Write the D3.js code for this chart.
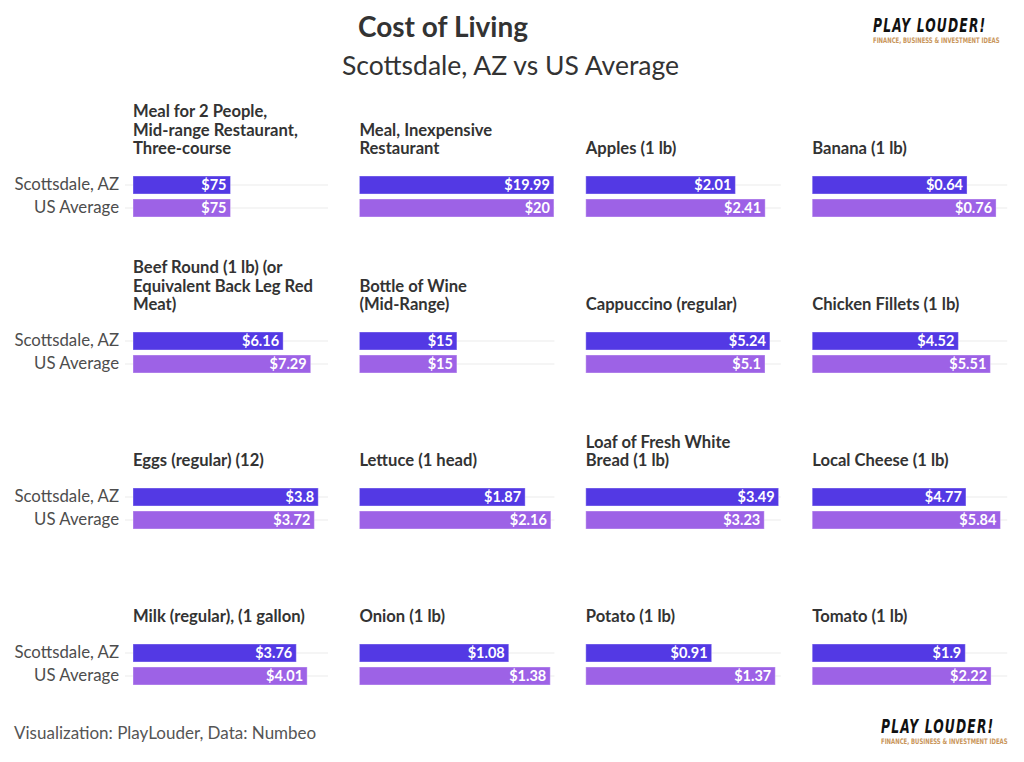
<!DOCTYPE html>
<html>
<head>
<meta charset="utf-8">
<script src="https://cdn.jsdelivr.net/npm/d3@7"></script>
<style>
  html, body { margin: 0; padding: 0; background: #fff; }
  svg { display: block; }
</style>
</head>
<body>
<svg id="chart" width="1024" height="762"></svg>
<script>
// ---------------- DATA ----------------
const categories = [
  "Meal for 2 People,\nMid-range Restaurant,\nThree-course",
  "Meal, Inexpensive\nRestaurant",
  "Apples (1 lb)",
  "Banana (1 lb)",
  "Beef Round (1 lb) (or\nEquivalent Back Leg Red\nMeat)",
  "Bottle of Wine\n(Mid-Range)",
  "Cappuccino (regular)",
  "Chicken Fillets (1 lb)",
  "Eggs (regular) (12)",
  "Lettuce (1 head)",
  "Loaf of Fresh White\nBread (1 lb)",
  "Local Cheese (1 lb)",
  "Milk (regular), (1 gallon)",
  "Onion (1 lb)",
  "Potato (1 lb)",
  "Tomato (1 lb)"
];
const seriesNames = ["Scottsdale, AZ", "US Average"];
const scottsdale = [75, 19.99, 2.01, 0.64, 6.16, 15, 5.24, 4.52, 3.8, 1.87, 3.49, 4.77, 3.76, 1.08, 0.91, 1.9];
const usAverage  = [75, 20, 2.41, 0.76, 7.29, 15, 5.1, 5.51, 3.72, 2.16, 3.23, 5.84, 4.01, 1.38, 1.37, 2.22];
// upper end of each panel's (free) price axis
const axisMax    = [150, 20.05, 2.62, 0.806, 8, 30, 5.55, 6.03, 4.0, 2.2, 3.53, 6.05, 4.49, 1.41, 1.41, 2.42];

const titleText = "Cost of Living";
const subtitleText = "Scottsdale, AZ vs US Average";
const captionText = "Visualization: PlayLouder, Data: Numbeo";
const logoText = "PLAY LOUDER!";
const logoTag = "FINANCE, BUSINESS & INVESTMENT IDEAS";

// ---------------- LAYOUT ----------------
const svg = d3.select("#chart");
const W = 1024, H = 762;
const nCols = 4;
const colLeft0 = 133, colPitch = 226.4, panelW = 195;
const rowTop0 = 176, rowPitch = 156, groupH = 41;
const colors = { "Scottsdale, AZ": "#5339e4", "US Average": "#9d62e6" };
const FONT = "Lato, 'Open Sans', sans-serif";
const LOGOFONT = "'DejaVu Sans Condensed', 'Liberation Sans Narrow', sans-serif";

svg.append("rect").attr("width", W).attr("height", H).attr("fill", "#fff");

// titles
svg.append("text").attr("x", 358).attr("y", 37)
  .attr("font-family", FONT).attr("font-weight", 700).attr("font-size", 28)
  .attr("fill", "#333").text(titleText);
svg.append("text").attr("x", 342).attr("y", 75)
  .attr("font-family", FONT).attr("font-weight", 400).attr("font-size", 26.5)
  .attr("fill", "#333").text(subtitleText);

// caption
svg.append("text").attr("x", 14).attr("y", 739)
  .attr("font-family", FONT).attr("font-size", 17).attr("fill", "#555")
  .text(captionText);

// logos
function logo(x, y) {
  const g = svg.append("g").attr("transform", `translate(${x},${y})`);
  g.append("text").attr("x", 0).attr("y", 0)
    .attr("transform", "scale(0.72,1)")
    .attr("font-family", LOGOFONT)
    .attr("font-weight", 700).attr("font-style", "italic").attr("font-size", 19)
    .attr("letter-spacing", 1.6)
    .attr("fill", "#111")
    .text(logoText);
  g.append("text").attr("x", 0).attr("y", 11)
    .attr("transform", "scale(0.78,1)")
    .attr("font-family", LOGOFONT)
    .attr("font-weight", 700).attr("font-size", 7.6)
    .attr("fill", "#c9965b")
    .text(logoTag);
}
logo(873, 32);
logo(881, 733);

// series band scale (shared inside each panel)
const yBand = d3.scaleBand().domain(seriesNames).range([0, groupH]).paddingInner(0.217).paddingOuter(0);

categories.forEach((cat, i) => {
  const col = i % nCols, row = Math.floor(i / nCols);
  const x0 = colLeft0 + col * colPitch;
  const y0 = rowTop0 + row * rowPitch;
  const g = svg.append("g").attr("transform", `translate(${x0},${y0})`);

  const x = d3.scaleLinear().domain([0, axisMax[i]]).range([0, panelW]);

  const vals = [
    { s: seriesNames[0], v: scottsdale[i] },
    { s: seriesNames[1], v: usAverage[i] }
  ];

  // grid tracks
  g.selectAll("line.track").data(vals).join("line")
    .attr("class", "track")
    .attr("x1", col === 0 ? -8 : 0).attr("x2", panelW)
    .attr("y1", d => yBand(d.s) + yBand.bandwidth() / 2)
    .attr("y2", d => yBand(d.s) + yBand.bandwidth() / 2)
    .attr("stroke", "#ebebeb").attr("stroke-width", 1.2);

  // y-axis labels on the first column
  if (col === 0) {
    const axis = d3.axisLeft(yBand).tickSize(0).tickPadding(14);
    const ag = g.append("g").call(axis);
    ag.select(".domain").remove();
    ag.selectAll("text").attr("font-family", FONT).attr("font-size", 16.8).attr("fill", "#4d4d4d");
  }

  // bars
  g.selectAll("rect.bar").data(vals).join("rect")
    .attr("class", "bar")
    .attr("x", x(0))
    .attr("y", d => yBand(d.s))
    .attr("width", d => x(d.v) - x(0))
    .attr("height", yBand.bandwidth())
    .attr("fill", d => colors[d.s])
    .attr("stroke", "rgba(255,255,255,0.35)").attr("stroke-width", 1);

  // value labels
  g.selectAll("text.val").data(vals).join("text")
    .attr("class", "val")
    .attr("x", d => x(d.v) - 4)
    .attr("y", d => yBand(d.s) + yBand.bandwidth() / 2)
    .attr("dy", "0.36em")
    .attr("text-anchor", "end")
    .attr("font-family", FONT).attr("font-weight", 700).attr("font-size", 14.5)
    .attr("fill", "#fff")
    .text(d => "$" + d.v);

  // facet title (bottom-aligned, wraps upward)
  const lines = cat.split("\n");
  const lineH = 18.5;
  const t = g.append("text")
    .attr("font-family", FONT).attr("font-weight", 700).attr("font-size", 16.6)
    .attr("fill", "#333");
  lines.forEach((ln, k) => {
    t.append("tspan").attr("x", 0)
      .attr("y", -22 - (lines.length - 1 - k) * lineH)
      .text(ln);
  });
});
</script>
</body>
</html>
